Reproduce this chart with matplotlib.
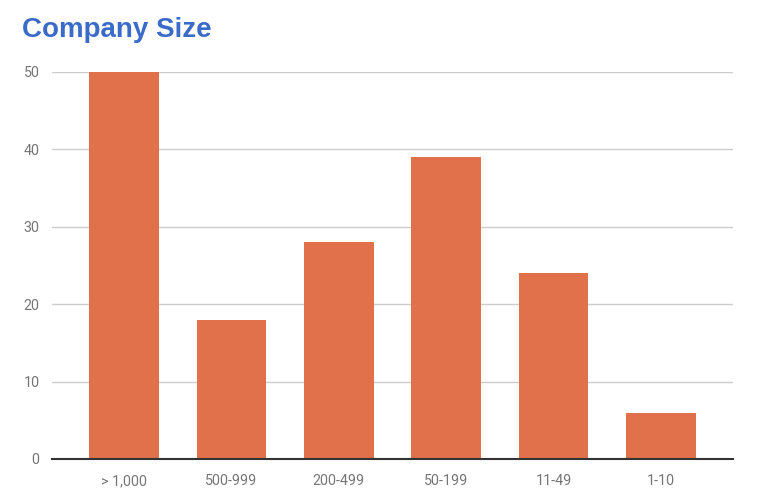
import matplotlib.pyplot as plt

# data
categories = ['> 1,000', '500-999', '200-499', '50-199', '11-49', '1-10']
counts = [50, 18, 28, 39, 24, 6]
y_ticks = [0, 10, 20, 30, 40, 50]

plt.rcParams['font.family'] = ['Roboto', 'DejaVu Sans']

fig = plt.figure(figsize=(7.61, 5.04), dpi=100)
ax = fig.add_axes([52 / 761, 45 / 504, 681 / 761, 387 / 504])

x = range(len(categories))
ax.bar(x, counts, width=0.647, color='#e0714a', zorder=3)

ax.set_xlim(-0.67, len(categories) - 1 + 0.67)
ax.set_ylim(0, 50)
ax.set_yticks(y_ticks)
ax.set_xticks(list(x))
ax.set_xticklabels(categories)

# gridlines and axis styling
ax.grid(axis='y', color='#cccccc', linewidth=1, zorder=0)
for side in ['top', 'right', 'left']:
    ax.spines[side].set_visible(False)
ax.spines['bottom'].set_color('#333333')
ax.spines['bottom'].set_linewidth(1.5)
ax.spines['bottom'].set_zorder(4)
ax.tick_params(axis='both', length=0, labelsize=10.3, labelcolor='#757575')
ax.tick_params(axis='y', pad=9)
ax.tick_params(axis='x', pad=11)

fig.text(22 / 761, 1 - 30 / 504, 'Company Size', fontsize=20, fontweight='bold',
         family=['Liberation Sans', 'DejaVu Sans'],
         color='#3a6bc9', va='center', ha='left')

fig.savefig('out.png', dpi=100)
